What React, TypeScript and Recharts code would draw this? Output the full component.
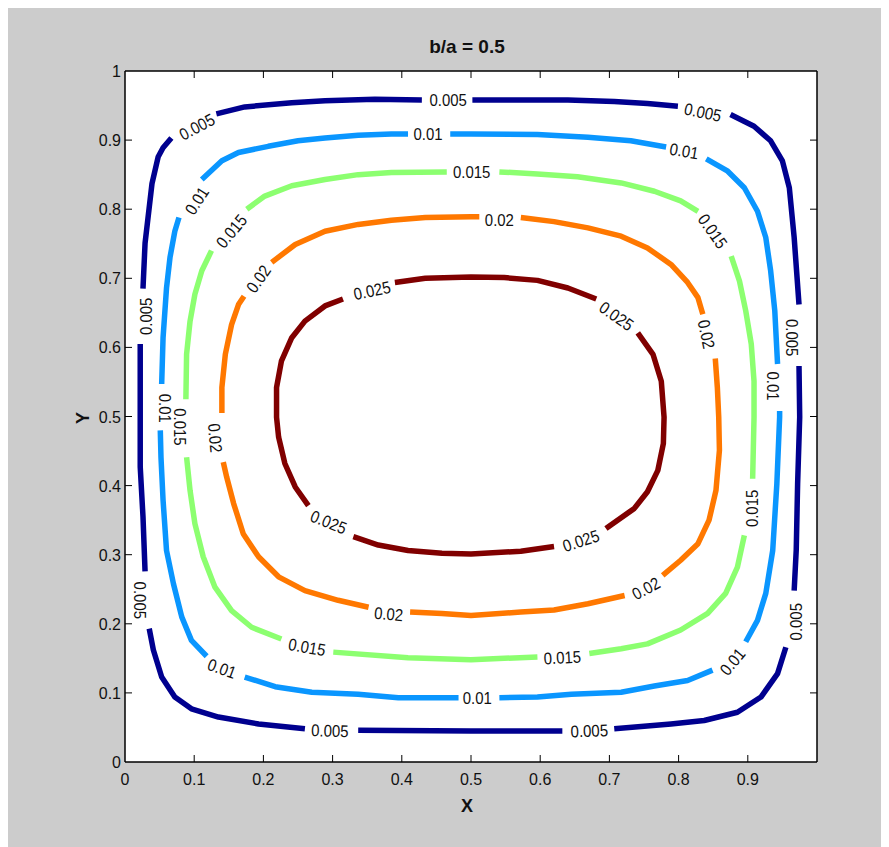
import React from 'react';
import { ScatterChart, Scatter, XAxis, YAxis, CartesianGrid } from 'recharts';

type P = [number, number];
type L = [number, number, number];

const xTicks = [0, 0.1, 0.2, 0.3, 0.4, 0.5, 0.6, 0.7, 0.8, 0.9];
const xTickLabels = ['0', '0.1', '0.2', '0.3', '0.4', '0.5', '0.6', '0.7', '0.8', '0.9'];
const yTicks = [0, 0.1, 0.2, 0.3, 0.4, 0.5, 0.6, 0.7, 0.8, 0.9, 1];
const yTickLabels = ['0', '0.1', '0.2', '0.3', '0.4', '0.5', '0.6', '0.7', '0.8', '0.9', '1'];
const innerTicks = [0.1, 0.2, 0.3, 0.4, 0.5, 0.6, 0.7, 0.8, 0.9];

const levels = ['0.005', '0.01', '0.015', '0.02', '0.025'];
const levelColors = ['#00008f', '#0a96ff', '#8cff70', '#ff7800', '#800000'];

const contour005: P[][] = [
  [[0.132, 0.938], [0.173, 0.948], [0.241, 0.954], [0.289, 0.957], [0.361, 0.959], [0.429, 0.958]],
  [[0.502, 0.958], [0.640, 0.958], [0.707, 0.956], [0.755, 0.953], [0.799, 0.949]],
  [[0.875, 0.937], [0.909, 0.920], [0.933, 0.899], [0.950, 0.870], [0.960, 0.831], [0.967, 0.759], [0.974, 0.662]],
  [[0.974, 0.573], [0.975, 0.499], [0.972, 0.403], [0.970, 0.307], [0.967, 0.248]],
  [[0.955, 0.166], [0.943, 0.128], [0.919, 0.094], [0.885, 0.072], [0.837, 0.060], [0.789, 0.055], [0.707, 0.048]],
  [[0.632, 0.045], [0.500, 0.045], [0.337, 0.046]],
  [[0.260, 0.048], [0.193, 0.055], [0.135, 0.065], [0.096, 0.077], [0.072, 0.094], [0.053, 0.123], [0.041, 0.162], [0.035, 0.193]],
  [[0.029, 0.276], [0.026, 0.355], [0.022, 0.427], [0.022, 0.499], [0.022, 0.605]],
  [[0.026, 0.685], [0.029, 0.751], [0.039, 0.837], [0.048, 0.876], [0.055, 0.889], [0.067, 0.903]],
];

const contour010: P[][] = [
  [[0.111, 0.843], [0.140, 0.870], [0.164, 0.882], [0.207, 0.891], [0.250, 0.899], [0.289, 0.903], [0.337, 0.907], [0.385, 0.909], [0.409, 0.909]],
  [[0.470, 0.909], [0.500, 0.909], [0.596, 0.908], [0.669, 0.904], [0.731, 0.899], [0.782, 0.890]],
  [[0.840, 0.873], [0.871, 0.855], [0.895, 0.831], [0.914, 0.797], [0.926, 0.759], [0.933, 0.711], [0.939, 0.653], [0.943, 0.576]],
  [[0.946, 0.508], [0.946, 0.499], [0.942, 0.403], [0.936, 0.306], [0.926, 0.244], [0.914, 0.205], [0.897, 0.174]],
  [[0.849, 0.133], [0.813, 0.118], [0.765, 0.110], [0.717, 0.101], [0.645, 0.098], [0.596, 0.094], [0.541, 0.093]],
  [[0.482, 0.093], [0.395, 0.093], [0.337, 0.098], [0.270, 0.101], [0.217, 0.109], [0.173, 0.123]],
  [[0.118, 0.153], [0.096, 0.176], [0.082, 0.210], [0.070, 0.258], [0.060, 0.306], [0.055, 0.379], [0.052, 0.441], [0.051, 0.480]],
  [[0.053, 0.547], [0.055, 0.614], [0.060, 0.686], [0.065, 0.730], [0.072, 0.768], [0.078, 0.788]],
];

const contour015: P[][] = [
  [[0.176, 0.800], [0.202, 0.819], [0.241, 0.834], [0.289, 0.843], [0.337, 0.850], [0.385, 0.853], [0.465, 0.854]],
  [[0.541, 0.854], [0.596, 0.851], [0.654, 0.847], [0.717, 0.838], [0.765, 0.826], [0.803, 0.812], [0.828, 0.797]],
  [[0.876, 0.732], [0.888, 0.696], [0.897, 0.653], [0.905, 0.605], [0.909, 0.551], [0.909, 0.499], [0.907, 0.410]],
  [[0.895, 0.328], [0.885, 0.282], [0.868, 0.244], [0.842, 0.215], [0.803, 0.191], [0.755, 0.171], [0.717, 0.164], [0.671, 0.157]],
  [[0.596, 0.152], [0.500, 0.148], [0.409, 0.151], [0.301, 0.159]],
  [[0.226, 0.178], [0.183, 0.195], [0.154, 0.219], [0.130, 0.253], [0.113, 0.297], [0.101, 0.345], [0.094, 0.393], [0.089, 0.441]],
  [[0.088, 0.525], [0.089, 0.590], [0.094, 0.638], [0.101, 0.677], [0.111, 0.711], [0.125, 0.740]],
];

const contour020: P[][] = [
  [[0.212, 0.723], [0.246, 0.749], [0.289, 0.768], [0.337, 0.778], [0.385, 0.784], [0.434, 0.788], [0.500, 0.789], [0.512, 0.789]],
  [[0.572, 0.788], [0.620, 0.782], [0.669, 0.773], [0.717, 0.761], [0.755, 0.744], [0.789, 0.720], [0.813, 0.694], [0.828, 0.672], [0.835, 0.648]],
  [[0.853, 0.584], [0.856, 0.542], [0.858, 0.499], [0.859, 0.451], [0.854, 0.393], [0.844, 0.350], [0.828, 0.316], [0.803, 0.292], [0.777, 0.270]],
  [[0.722, 0.241], [0.669, 0.229], [0.620, 0.220], [0.572, 0.217], [0.500, 0.212], [0.458, 0.215], [0.412, 0.217]],
  [[0.352, 0.224], [0.308, 0.234], [0.260, 0.248], [0.222, 0.268], [0.193, 0.297], [0.171, 0.330], [0.157, 0.374], [0.147, 0.412], [0.142, 0.434]],
  [[0.140, 0.505], [0.140, 0.542], [0.145, 0.590], [0.154, 0.633], [0.164, 0.662], [0.172, 0.674]],
];

const contour025: P[][] = [
  [[0.265, 0.371], [0.246, 0.398], [0.231, 0.432], [0.222, 0.470], [0.219, 0.499], [0.219, 0.542], [0.226, 0.580], [0.241, 0.614], [0.260, 0.638], [0.289, 0.660], [0.315, 0.670]],
  [[0.390, 0.694], [0.434, 0.700], [0.500, 0.702], [0.548, 0.701], [0.596, 0.697], [0.640, 0.686], [0.681, 0.670]],
  [[0.741, 0.621], [0.763, 0.590], [0.775, 0.551], [0.779, 0.499], [0.778, 0.461], [0.770, 0.422], [0.755, 0.391], [0.736, 0.367], [0.695, 0.338]],
  [[0.620, 0.312], [0.572, 0.305], [0.500, 0.301], [0.458, 0.302], [0.409, 0.306], [0.366, 0.314], [0.330, 0.326]],
];

// label anchor [x, y, rotation]
const labels005: L[] = [
  [0.104, 0.919, -28], [0.467, 0.958, 0], [0.835, 0.940, 12], [0.964, 0.614, 90],
  [0.970, 0.203, -90], [0.671, 0.045, -2], [0.296, 0.045, 2], [0.022, 0.234, 90], [0.031, 0.645, -90],
];
const labels010: L[] = [
  [0.104, 0.812, -57], [0.438, 0.908, 0], [0.808, 0.884, 10], [0.936, 0.544, 90],
  [0.878, 0.145, -50], [0.509, 0.092, 0], [0.140, 0.135, 20], [0.058, 0.512, 90],
];
const labels015: L[] = [
  [0.154, 0.768, -50], [0.501, 0.854, 0], [0.849, 0.768, 55], [0.907, 0.367, -90],
  [0.632, 0.151, -3], [0.263, 0.166, 10], [0.079, 0.485, 90],
];
const labels020: L[] = [
  [0.193, 0.699, -55], [0.541, 0.784, 0], [0.840, 0.619, 78], [0.753, 0.251, -28],
  [0.381, 0.214, 5], [0.130, 0.469, 85],
];
const labels025: L[] = [
  [0.357, 0.682, -12], [0.710, 0.645, 35], [0.659, 0.320, -18], [0.294, 0.347, 22],
];

const contours = [contour005, contour010, contour015, contour020, contour025];
const labelSets = [labels005, labels010, labels015, labels020, labels025];

const FONT = '"Liberation Sans", Arial, Helvetica, sans-serif';
const TICK = 7;

const labelData = labelSets.flatMap((set, i) =>
  set.map(([x, y, a]) => ({ x, y, angle: a, text: levels[i] }))
);

const NoShape = () => <g />;

const LabelShape = (p: any) => {
  const { cx, cy, payload } = p;
  return (
    <g transform={`translate(${cx} ${cy}) rotate(${payload.angle}) scale(0.88 1)`}>
      <text
        x={0}
        y={0}
        textAnchor="middle"
        dominantBaseline="central"
        fontFamily={FONT}
        fontSize={17}
        fill="#111"
      >
        {payload.text}
      </text>
    </g>
  );
};

const BottomTick = (p: any) => {
  const { x, y, payload } = p;
  const v = payload.value;
  const i = xTicks.indexOf(v);
  return (
    <g>
      {v > 0 && v < 1 && <line x1={x} x2={x} y1={y} y2={y - TICK} stroke="#000" strokeWidth={1} />}
      <text x={x} y={y + 23} textAnchor="middle" fontFamily={FONT} fontSize={16} fill="#111">
        {xTickLabels[i]}
      </text>
    </g>
  );
};

const LeftTick = (p: any) => {
  const { x, y, payload } = p;
  const v = payload.value;
  const i = yTicks.indexOf(v);
  return (
    <g>
      {v > 0 && v < 1 && <line x1={x} x2={x + TICK} y1={y} y2={y} stroke="#000" strokeWidth={1} />}
      <text x={x - 4} y={y + 6} textAnchor="end" fontFamily={FONT} fontSize={16} fill="#111">
        {yTickLabels[i]}
      </text>
    </g>
  );
};

const TopTick = (p: any) => {
  const { x, y } = p;
  return <line x1={x} x2={x} y1={y} y2={y + TICK} stroke="#000" strokeWidth={1} />;
};

const RightTick = (p: any) => {
  const { x, y } = p;
  return <line x1={x} x2={x - TICK} y1={y} y2={y} stroke="#000" strokeWidth={1} />;
};

export default function App() {
  const W = 881;
  const H = 840;
  return (
    <div style={{ position: 'relative', width: W, height: H, background: '#cccccc', marginTop: -1 }}>
      <ScatterChart width={W} height={H} margin={{ top: 54, right: 62, bottom: 45, left: 57 }}>
        <CartesianGrid horizontal={false} vertical={false} fill="#ffffff" />
        <XAxis
          dataKey="x"
          type="number"
          domain={[0, 1]}
          ticks={xTicks}
          interval={0}
          height={40}
          tickSize={0}
          tickMargin={0}
          tickLine={false}
          tick={BottomTick}
          axisLine={{ stroke: '#000', strokeWidth: 1.5 }}
          allowDataOverflow
        />
        <XAxis
          xAxisId="top"
          orientation="top"
          dataKey="x"
          type="number"
          domain={[0, 1]}
          ticks={innerTicks}
          interval={0}
          height={10}
          tickSize={0}
          tickMargin={0}
          tickLine={false}
          tick={TopTick}
          axisLine={{ stroke: '#000', strokeWidth: 1.5 }}
          allowDataOverflow
        />
        <YAxis
          dataKey="y"
          type="number"
          domain={[0, 1]}
          ticks={yTicks}
          interval={0}
          width={60}
          tickSize={0}
          tickMargin={0}
          tickLine={false}
          tick={LeftTick}
          axisLine={{ stroke: '#000', strokeWidth: 1.5 }}
          allowDataOverflow
        />
        <YAxis
          yAxisId="right"
          orientation="right"
          dataKey="y"
          type="number"
          domain={[0, 1]}
          ticks={innerTicks}
          interval={0}
          width={10}
          tickSize={0}
          tickMargin={0}
          tickLine={false}
          tick={RightTick}
          axisLine={{ stroke: '#000', strokeWidth: 1.5 }}
          allowDataOverflow
        />
        {contours.map((segs, li) =>
          segs.map((seg, si) => (
            <Scatter
              key={`c${li}-${si}`}
              data={seg.map(([x, y]) => ({ x, y }))}
              fill={levelColors[li]}
              line={{ stroke: levelColors[li], strokeWidth: 5.5, strokeLinejoin: 'round', strokeLinecap: 'butt' }}
              lineType="joint"
              shape={NoShape}
              isAnimationActive={false}
            />
          ))
        )}
        <Scatter data={labelData} shape={LabelShape} isAnimationActive={false} />
      </ScatterChart>
      <svg
        width={W}
        height={H}
        style={{ position: 'absolute', left: 0, top: 0, pointerEvents: 'none' }}
      >
        <text x={459} y={46} textAnchor="middle" fontFamily={FONT} fontWeight="bold" fontSize={19} fill="#111">
          b/a = 0.5
        </text>
        <text x={459} y={805} textAnchor="middle" fontFamily={FONT} fontWeight="bold" fontSize={18} fill="#111">
          X
        </text>
        <text
          x={81}
          y={411}
          transform="rotate(-90 81 411)"
          textAnchor="middle"
          fontFamily={FONT}
          fontWeight="bold"
          fontSize={18}
          fill="#111"
        >
          Y
        </text>
      </svg>
    </div>
  );
}
